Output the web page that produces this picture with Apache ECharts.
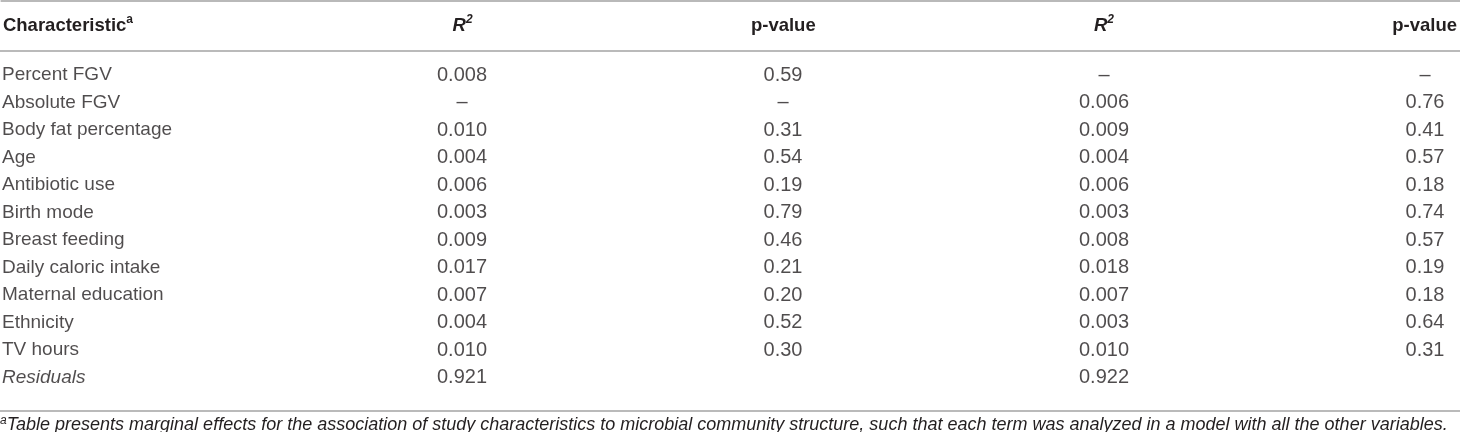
<!DOCTYPE html>
<html><head><meta charset="utf-8">
<script src="https://cdn.jsdelivr.net/npm/echarts@6/dist/echarts.min.js"></script>
<style>html,body{margin:0;padding:0;background:#fff}#c{width:1460px;height:432px}</style>
</head><body><div id="c"></div>
<script>
// ---- table content ----
const characteristics = ['Percent FGV', 'Absolute FGV', 'Body fat percentage', 'Age', 'Antibiotic use', 'Birth mode', 'Breast feeding', 'Daily caloric intake', 'Maternal education', 'Ethnicity', 'TV hours', 'Residuals'];
const r2Model1 = ['0.008', '–', '0.010', '0.004', '0.006', '0.003', '0.009', '0.017', '0.007', '0.004', '0.010', '0.921'];
const pModel1 = ['0.59', '–', '0.31', '0.54', '0.19', '0.79', '0.46', '0.21', '0.20', '0.52', '0.30', ''];
const r2Model2 = ['–', '0.006', '0.009', '0.004', '0.006', '0.003', '0.008', '0.018', '0.007', '0.003', '0.010', '0.922'];
const pModel2 = ['–', '0.76', '0.41', '0.57', '0.18', '0.74', '0.57', '0.19', '0.18', '0.64', '0.31', ''];
const columnHeaders = ['Characteristic', 'R', 'p-value', 'R', 'p-value'];
const headerSuperscripts = ['a', '2', '', '2', ''];
const italicHeaders = [false, true, false, true, false];
const italicRows = ['Residuals'];
const footnoteMark = 'a';
const footnoteText = 'Table presents marginal effects for the association of study characteristics to microbial community structure, such that each term was analyzed in a model with all the other variables.';

// ---- styling / layout ----
const FONT = '"Liberation Sans", Arial, Helvetica, sans-serif';
const INK = '#231f20';
const RULE = '#a3a3a3';
const FIRST_COL_W = 278;
const NAME_SIZE = 19, NUM_SIZE = 20, HEAD_SIZE = 18.5, SUP_SIZE = 12;
// column axis: column 0 centre at 141px, 321px between column centres, grid spans full 1460px
const X_MIN = -141 / 321, X_MAX = (1460 - 141) / 321;

function measure(text, font) {
  const ctx = document.createElement('canvas').getContext('2d');
  ctx.font = font;
  return ctx.measureText(text).width;
}
const headPad = FIRST_COL_W - measure(columnHeaders[0], 'bold ' + HEAD_SIZE + 'px ' + FONT) - measure(headerSuperscripts[0], 'bold ' + SUP_SIZE + 'px ' + FONT);

const columns = [characteristics, r2Model1, pModel1, r2Model2, pModel2];
const colIdx = columns.map((_, c) => c);
const rowIdx = characteristics.map((_, i) => i);

const series = columns.map((col, c) => ({
  type: 'scatter', xAxisIndex: 0, yAxisIndex: 0, symbolSize: 0, silent: true, clip: false,
  data: col.map((v, i) => [colIdx[c], rowIdx[i], v]),
  label: {
    show: true, position: 'inside', color: INK, fontFamily: FONT,
    fontSize: c === 0 ? NAME_SIZE : NUM_SIZE,
    formatter: p => {
      const v = p.value[2];
      if (v === '') return '';
      if (c === 0) return italicRows.includes(v) ? '{li|' + v + '}' : '{l|' + v + '}';
      return v;
    },
    rich: {
      l: { width: FIRST_COL_W, align: 'left', fontSize: NAME_SIZE, fontFamily: FONT, color: INK },
      li: { width: FIRST_COL_W, align: 'left', fontSize: NAME_SIZE, fontFamily: FONT, color: INK, fontStyle: 'italic' }
    }
  }
}));

const headStyle = { fontWeight: 'bold', fontSize: HEAD_SIZE, fontFamily: FONT, color: INK, lineHeight: 24 };
const supStyle = { fontWeight: 'bold', fontSize: SUP_SIZE, fontFamily: FONT, color: INK, lineHeight: 12, verticalAlign: 'top' };
const ruleLine = { show: true, onZero: false, lineStyle: { color: RULE, width: 1.5 } };

const option = {
  animation: false,
  backgroundColor: '#ffffff',
  title: {
    left: 0, top: 415, padding: 0,
    text: '{fs|' + footnoteMark + '}{ft|' + footnoteText + '}',
    textStyle: {
      fontWeight: 'normal',
      rich: {
        ft: { fontStyle: 'italic', fontWeight: 'normal', fontSize: 18, fontFamily: FONT, color: INK, lineHeight: 20 },
        fs: { fontStyle: 'italic', fontWeight: 'normal', fontSize: 12, fontFamily: FONT, color: INK, lineHeight: 12, verticalAlign: 'top' }
      }
    }
  },
  grid: [
    { left: 0, right: 0, top: 51, bottom: 21 },
    { left: 0, right: 0, top: 1, height: 50 }
  ],
  xAxis: [
    { gridIndex: 0, type: 'value', position: 'top', min: X_MIN, max: X_MAX,
      axisLine: ruleLine, axisTick: { show: false }, axisLabel: { show: false }, splitLine: { show: false } },
    { gridIndex: 0, type: 'value', position: 'bottom', min: X_MIN, max: X_MAX,
      axisLine: ruleLine, axisTick: { show: false }, axisLabel: { show: false }, splitLine: { show: false } },
    { gridIndex: 1, type: 'value', position: 'top', min: X_MIN, max: X_MAX,
      axisLine: ruleLine, axisTick: { show: false }, splitLine: { show: false },
      axisLabel: {
        show: true, inside: true, margin: 25, verticalAlign: 'middle',
        customValues: colIdx,
        formatter: (v) => {
          const i = Math.round(v);
          const h = columnHeaders[i];
          const sup = headerSuperscripts[i];
          const main = italicHeaders[i] ? '{hi|' + h + '}' : '{h|' + h + '}';
          const s = sup ? (italicHeaders[i] ? '{si|' + sup + '}' : '{s|' + sup + '}') : '';
          return i === 0 ? main + s + '{pad|}' : main + s;
        },
        rich: {
          h: headStyle,
          hi: Object.assign({}, headStyle, { fontStyle: 'italic' }),
          s: supStyle,
          si: Object.assign({}, supStyle, { fontStyle: 'italic' }),
          pad: { width: Math.max(0, headPad), lineHeight: 24 }
        }
      } }
  ],
  yAxis: [
    { gridIndex: 0, type: 'value', inverse: true, min: -0.8727, max: 12.218, show: false },
    { gridIndex: 1, type: 'value', min: 0, max: 1, show: false }
  ],
  series: series
};

const chart = echarts.init(document.getElementById('c'), null, { renderer: 'canvas' });
chart.setOption(option);
</script></body></html>
